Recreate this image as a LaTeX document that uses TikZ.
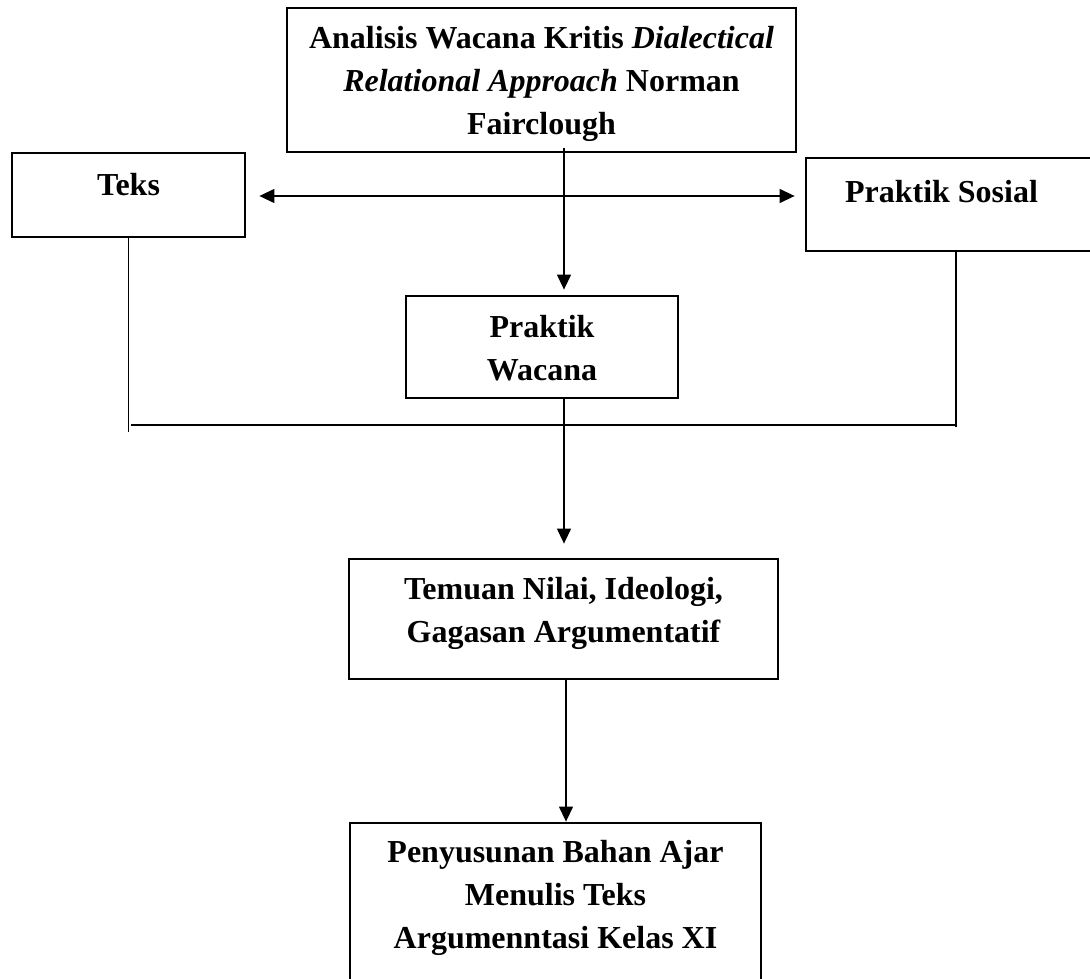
\documentclass[tikz,border=0pt]{standalone}
\usepackage{fontspec}
\setmainfont{Liberation Serif}
\usetikzlibrary{arrows.meta}
\tikzset{
  box/.style={draw, line width=2.8pt, rectangle, inner sep=0pt},
  lbl/.style={font=\fontsize{32}{43}\selectfont\bfseries, align=center, anchor=base, inner sep=0pt},
  conn/.style={line width=1.3pt},
  arr/.style={conn, -{Triangle[length=15pt,width=14pt]}},
  darr/.style={conn, {Triangle[length=15pt,width=14pt]}-{Triangle[length=15pt,width=14pt]}},
}
\begin{document}
\begin{tikzpicture}[x=1pt,y=-1pt]
\useasboundingbox (0,0) rectangle (1090,979);
\fill[white] (0,0) rectangle (1090,979);
\clip (0,0) rectangle (1090,979);
% boxes
\node[box, minimum width=509pt, minimum height=144pt] (top) at (541.5,80) {};
\node[box, minimum width=233pt, minimum height=84pt] (teks) at (128.5,195) {};
\node[box, minimum width=300pt, minimum height=93pt] (ps) at (956,204.5) {};
\node[box, minimum width=272pt, minimum height=102pt] (pw) at (542,347) {};
\node[box, minimum width=429pt, minimum height=120pt] (tem) at (563.5,619) {};
\node[box, minimum width=411pt, minimum height=177pt] (pen) at (555.5,911.5) {};
% labels (multi-line: anchored at the baseline of the last line)
\node[lbl] (toplbl) at (541.5,135) {Analisis Wacana Kritis \textit{Dialectical}\\\textit{Relational Approach} Norman\\Fairclough};
\node[lbl] (tekslbl) at (128.5,195) {Teks};
\node[lbl] (pslbl) at (941.5,203) {Praktik Sosial};
\node[lbl] (pwlbl) at (542,380) {Praktik\\Wacana};
\node[lbl] (temlbl) at (563.5,642) {Temuan Nilai, Ideologi,\\Gagasan Argumentatif};
\node[lbl] (penlbl) at (555.5,948) {Penyusunan Bahan Ajar\\Menulis Teks\\Argumenntasi Kelas XI};
% junction coordinates
\coordinate (jl) at (131,425);
\coordinate (jr) at (956,425);
% connectors
\draw[arr] ([xshift=22.5pt,yshift=5pt]top.south) -- ([xshift=22.5pt,yshift=5pt]top.south |- pw.north);
\draw[darr] ([xshift=13pt,yshift=-1pt]teks.east) -- ([xshift=-10pt,yshift=-1pt]teks.east -| ps.west);
\draw[conn] (teks.south) -- ([yshift=-7pt]teks.south |- jl);
\draw[conn] (jl) -- (jr);
\draw[conn] (ps.south) -- ([yshift=-2pt]jr);
\draw[arr] ([xshift=22pt]pw.south) -- ([xshift=22pt,yshift=14pt]pw.south |- tem.north);
\draw[arr] ([xshift=2.5pt]tem.south) -- ([xshift=2.5pt]tem.south |- pen.north);
\end{tikzpicture}
\end{document}
